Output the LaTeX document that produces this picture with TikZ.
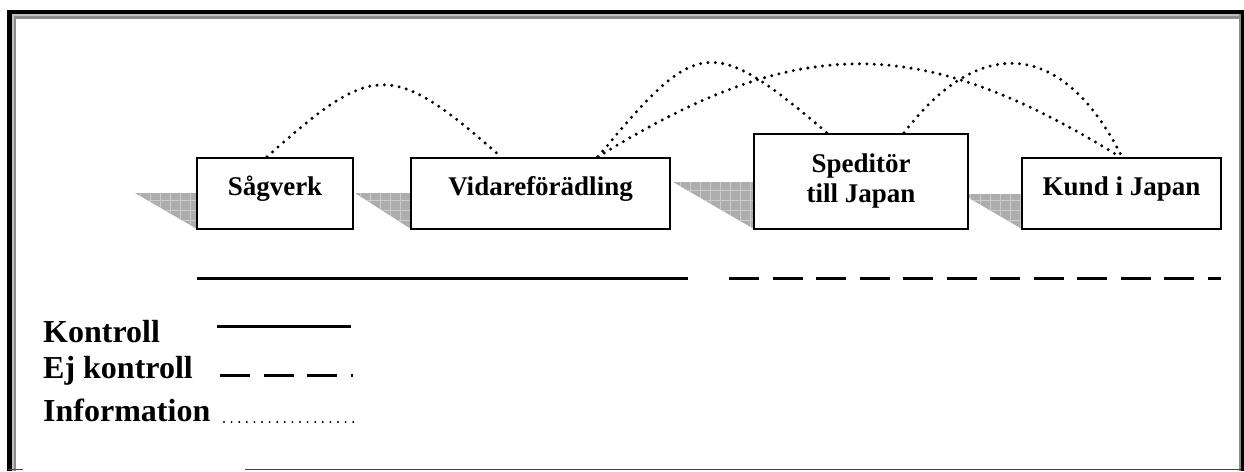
\documentclass[tikz,border=0pt]{standalone}
\usepackage{fontspec}
\setmainfont{Liberation Serif}
\definecolor{shadefill}{gray}{0.68}
\definecolor{shadegrid}{gray}{0.80}
\definecolor{frameA}{gray}{0.75}
\definecolor{frameB}{gray}{0.55}
\definecolor{frameC}{gray}{0.27}
\tikzset{
  stage/.style={draw=black, line width=2.3pt, fill=white, inner sep=0pt,
    font=\fontsize{27}{30}\selectfont\bfseries},
  oneline/.style={text height=18pt, text depth=15pt},
  infoline/.style={line width=3.3pt, line cap=round, dash pattern=on 0pt off 7.4pt},
  legendtext/.style={anchor=base west, inner sep=0pt, font=\fontsize{32}{36}\selectfont\bfseries},
  ctrl/.style={line width=3pt},
  noctrl/.style={line width=3pt, dash pattern=on 30pt off 13.5pt},
  smalldots/.style={line width=2.2pt, line cap=round, dash pattern=on 0pt off 7.6pt}
}
\begin{document}
\begin{tikzpicture}[x=1pt, y=-1pt]
\useasboundingbox (0,0) rectangle (1244,471);
\fill[white] (0,0) rectangle (1244,471);

% page frame
\fill[black] (7.3,10) rectangle (1244,14.3);
\fill[black] (7.3,10) rectangle (12,471);
\fill[black] (1240.7,10) rectangle (1244,471);
\fill[frameA] (12,14.3) rectangle (1239.3,16);
\fill[frameA] (12,14.3) rectangle (13.7,471);
\fill[frameB] (13.7,16) rectangle (1239.3,19);
\fill[frameB] (13.7,16) rectangle (16,471);
\fill[frameB] (1239.3,14.3) rectangle (1240.7,471);
\fill[frameC] (8,468.6) rectangle (23,470);
\fill[frameC] (245,468.6) rectangle (1240.7,470);

% shaded wedges in front of each stage
\foreach \xa/\ya/\xb/\yb in {135/193/197/229, 355/193/411/229, 673/182/754/229, 962/194/1022/229}{
  \begin{scope}
    \clip (\xa,\ya) -- (\xb,\ya) -- (\xb,\yb) -- cycle;
    \fill[shadefill] (\xa,\ya) rectangle (\xb,\yb);
    \draw[shadegrid, line width=0.8pt, step=10pt] (\xa-10,\ya-10) grid (\xb+10,\yb+10);
  \end{scope}
}

% stages of the chain
\node[stage, oneline, minimum width=156pt, minimum height=71pt] (sag) at (275,193.5) {Sågverk};
\node[stage, oneline, minimum width=259pt, minimum height=71pt] (vid) at (540.5,193.5) {Vidareförädling};
\node[stage, align=center, minimum width=214pt, minimum height=95pt] (spe) at (861,181.5) {Speditör\\till Japan};
\node[stage, oneline, minimum width=199pt, minimum height=71pt] (kund) at (1121.5,193.5) {Kund i Japan};

% information flows
\draw[infoline] ([xshift=-8pt]sag.north) .. controls +(107,-96) and +(-109,-96) .. ([xshift=-39.5pt]vid.north);
\draw[infoline] ([xshift=57.5pt]vid.north) .. controls +(99,-120) and +(-116,-99) .. ([xshift=-34pt]spe.north);
\draw[infoline] ([xshift=57.5pt]vid.north) .. controls +(200,-124) and +(-200,-124) .. ([xshift=-1.5pt]kund.north);
\draw[infoline] ([xshift=43pt]spe.north) .. controls +(71,-94) and +(-62,-123) .. ([xshift=0.5pt]kund.north);

% control spans
\coordinate (c1) at (197,278);
\coordinate (c2) at (688,278);
\coordinate (n1) at (729,278);
\coordinate (n2) at (1221,278);
\draw[ctrl] (c1) -- (c2);
\draw[noctrl] (n1) -- (n2);

% legend
\node[legendtext] (lk) at (43,342) {Kontroll};
\node[legendtext] (le) at (43,378) {Ej kontroll};
\node[legendtext] (li) at (43,421) {Information};
\coordinate (k1) at (217,326);
\coordinate (k2) at (351,326);
\coordinate (e1) at (220,375);
\coordinate (e2) at (353,375);
\coordinate (i1) at (224,422);
\coordinate (i2) at (356,422);
\draw[ctrl] (k1) -- (k2);
\draw[noctrl] (e1) -- (e2);
\draw[smalldots] (i1) -- (i2);
\end{tikzpicture}
\end{document}
